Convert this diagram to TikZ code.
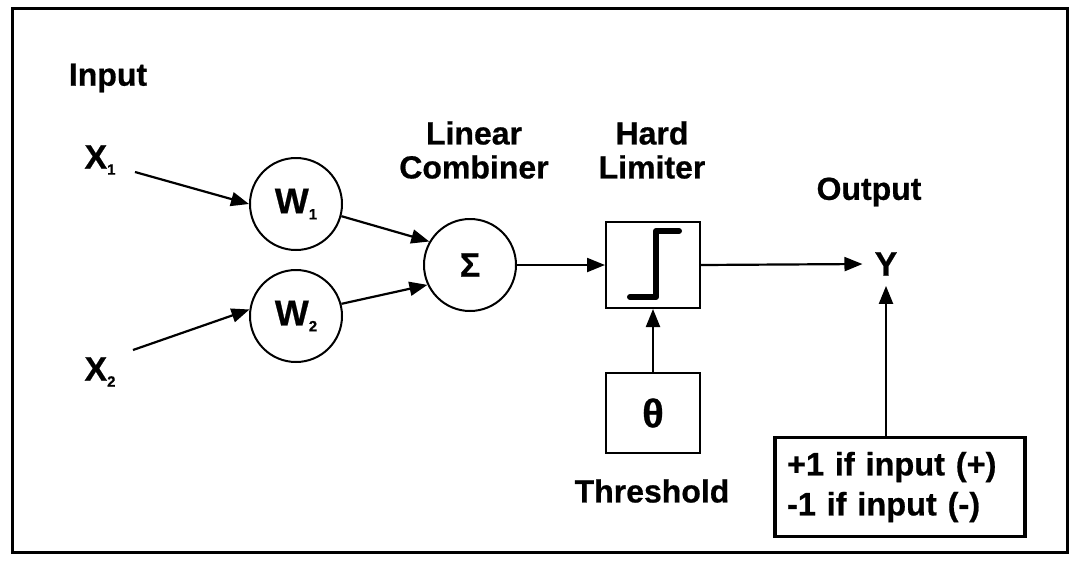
\documentclass[tikz,border=0pt]{standalone}
\usepackage{fontspec}
\setmainfont{Liberation Sans}[BoldFeatures={FakeBold=0.6}]
\usetikzlibrary{arrows.meta,calc}
\tikzset{
  lbl/.style={font=\fontsize{32}{34}\selectfont\bfseries, inner sep=0pt, align=center},
  neuron/.style={circle, draw, line width=2pt, minimum size=92pt, inner sep=0pt, font=\fontsize{36}{38}\selectfont\bfseries},
  blk/.style={rectangle, draw, line width=2pt, minimum width=94pt, minimum height=86pt, inner sep=0pt, font=\fontsize{40}{40}\selectfont\bfseries},
  conn/.style={line width=2.2pt, -{Triangle[length=18pt,width=14pt]}},
  plain/.style={line width=2.2pt}
}
\newcommand{\sbs}[1]{\raisebox{-6pt}{\fontsize{15}{15}\selectfont #1}}
\begin{document}
\begin{tikzpicture}[x=1pt,y=-1pt]
\useasboundingbox (0,0) rectangle (1071,566);
\draw[line width=3pt] (12,8) rectangle (1067,552);
% labels
\node[lbl] (input) at (108,78) {Input};
\node[lbl, font=\fontsize{34}{34}\selectfont\bfseries] (x1) at (100,160) {X\sbs{1}};
\node[lbl, font=\fontsize{34}{34}\selectfont\bfseries] (x2) at (100,372) {X\sbs{2}};
\node[lbl] (lc) at (474,150) {Linear\\Combiner};
\node[lbl] (hl) at (652,150) {Hard\\Limiter};
\node[lbl] (out) at (869,192) {Output};
\node[lbl] (thr) at (652,491) {Threshold};
% nodes
\node[neuron] (w1) at (296,204) {W\sbs{1}};
\node[neuron] (w2) at (296,316) {W\sbs{2}};
\node[neuron, font=\fontsize{34}{34}\selectfont\bfseries] (sum) at (470,265) {\raisebox{-2pt}{Σ}};
\node[blk] (lim) at (653,265) {};
\node[blk, minimum height=80pt] (th) at (653,413) {θ};
\node[lbl, font=\fontsize{34}{34}\selectfont\bfseries, inner xsep=12pt] (y) at (886,264) {Y};
\node[rectangle, draw, line width=3.5pt, minimum width=250pt, minimum height=99pt,
      text width=226pt, inner xsep=12pt, align=left,
      font=\fontsize{32.5}{40}\selectfont\bfseries] (rule) at (900,487)
      {+1 if input (+)\\-1 if input (-)};
% step function
\draw[line width=6pt, line cap=round, line join=round]
  ($(lim.center)+(-23,32)$) -- ($(lim.center)+(3,32)$) -- ($(lim.center)+(3,-34)$) -- ($(lim.center)+(26,-34)$);
% connectors
\coordinate (x1s) at (135,172);
\coordinate (x2s) at (133,350);
\draw[conn] (x1s) -- (w1.180);
\draw[conn] (x2s) -- (w2.172);
\draw[conn] (w1.-15) -- (sum.150);
\draw[conn] (w2.15) -- (sum.205);
\draw[conn] (sum.east) -- (lim.west);
\draw[conn] (lim.east) -- (y.west);
\draw[conn] (rule.north -| y) -- ($(y.south)+(0,10)$);
\draw[conn] (th.north) -- (lim.south);
\end{tikzpicture}
\end{document}
